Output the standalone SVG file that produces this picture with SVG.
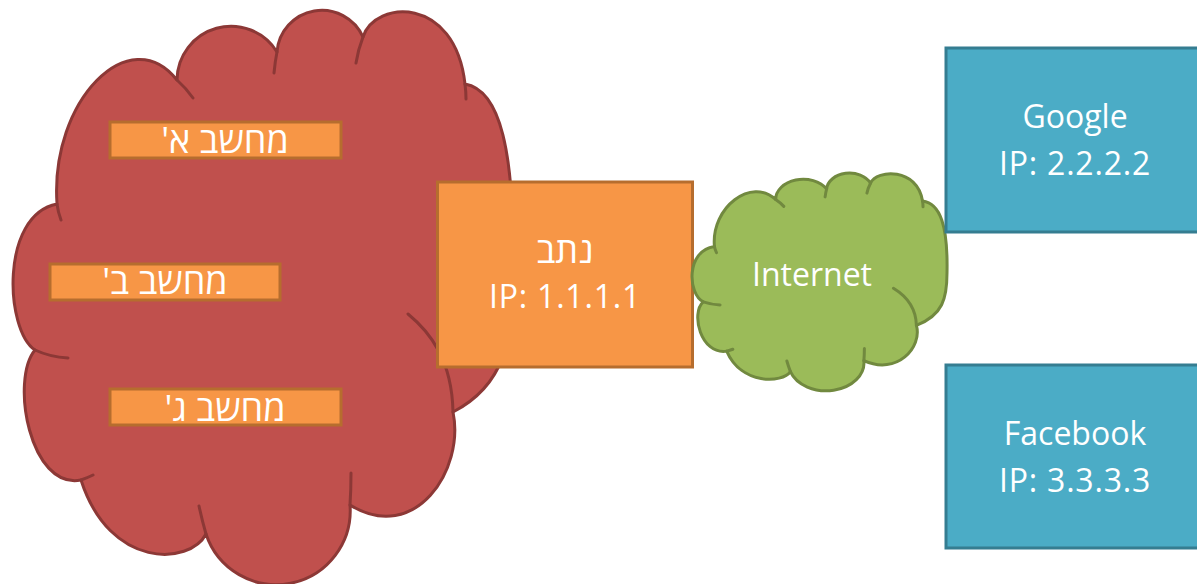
<svg xmlns="http://www.w3.org/2000/svg" width="1197" height="584" viewBox="0 0 1197 584">
<style>
.txt{font-family:"Open Sans","DejaVu Sans",sans-serif;font-size:32px;fill:#ffffff;text-anchor:middle}
.he{direction:rtl;unicode-bidi:embed;font-size:36px}
.ip{letter-spacing:0.8px}
.cl{vector-effect:non-scaling-stroke;stroke-width:3;stroke-linejoin:round;stroke-linecap:round}
.orange{fill:#F79646;stroke:#B66D2E;stroke-width:3}
.blue{fill:#4BACC6;stroke:#357D91;stroke-width:3}
</style>
<defs>
<path id="cloudOutline" class="cl" d="M57,204 C50,100 130,20 177,80 A54,54 0 0 1 277,52 A45,45 0 0 1 363,37 C375,0 455,-5 465,84 C500,90 515,150 513,274 C513,340 505,385 453,412 C465,470 415,545 350,505 A74,74 0 0 1 206,534 C190,565 110,570 81,480 C30,490 10,380 35,350 C5,330 0,215 57,204 Z"/>
<path id="cloudArcs" class="cl" fill="none" d="M57,204 Q58,212 61,220 M177,80 Q186,88 193,98 M277,52 Q275,62 274,73 M363,37 Q358,50 356,63 M465,84 Q466,92 466,99 M408,314 C430,332 452,360 453,412 M350,505 Q351,490 351,473 M206,534 Q202,520 199,506 M81,480 Q87,478 93,475 M35,350 Q50,357 68,358"/>
</defs>
<rect width="1197" height="584" fill="#ffffff"/>
<g id="lan-cloud" fill="#C0504D" stroke="#8C3836">
<use href="#cloudOutline"/>
<use href="#cloudArcs"/>
</g>
<g id="computer-a">
<rect class="orange" x="110" y="122" width="231" height="36"/>
<text class="txt he" x="225" y="153">מחשב א'</text>
</g>
<g id="computer-b">
<rect class="orange" x="50" y="264" width="230" height="36"/>
<text class="txt he" x="165" y="294">מחשב ב'</text>
</g>
<g id="computer-c">
<rect class="orange" x="110" y="389" width="231" height="36"/>
<text class="txt he" x="225" y="421">מחשב ג'</text>
</g>
<g id="router">
<rect class="orange" x="437.5" y="182" width="255" height="185"/>
<text class="txt he" x="565" y="263">נתב</text>
<text class="txt ip" x="565" y="308">IP: 1.1.1.1</text>
</g>
<g id="internet" fill="#9BBB59" stroke="#71893F">
<g transform="translate(692,173) scale(0.51,0.379) translate(-13,-10)">
<use href="#cloudOutline"/>
<use href="#cloudArcs"/>
</g>
<text class="txt" x="812" y="286" stroke="none">Internet</text>
</g>
<g id="google">
<rect class="blue" x="946" y="48" width="262" height="184"/>
<text class="txt" x="1075" y="128">Google</text>
<text class="txt ip" x="1075" y="175">IP: 2.2.2.2</text>
</g>
<g id="facebook">
<rect class="blue" x="946" y="365" width="262" height="183"/>
<text class="txt" x="1075" y="445">Facebook</text>
<text class="txt ip" x="1075" y="492">IP: 3.3.3.3</text>
</g>
<g id="connectors"/>
</svg>
